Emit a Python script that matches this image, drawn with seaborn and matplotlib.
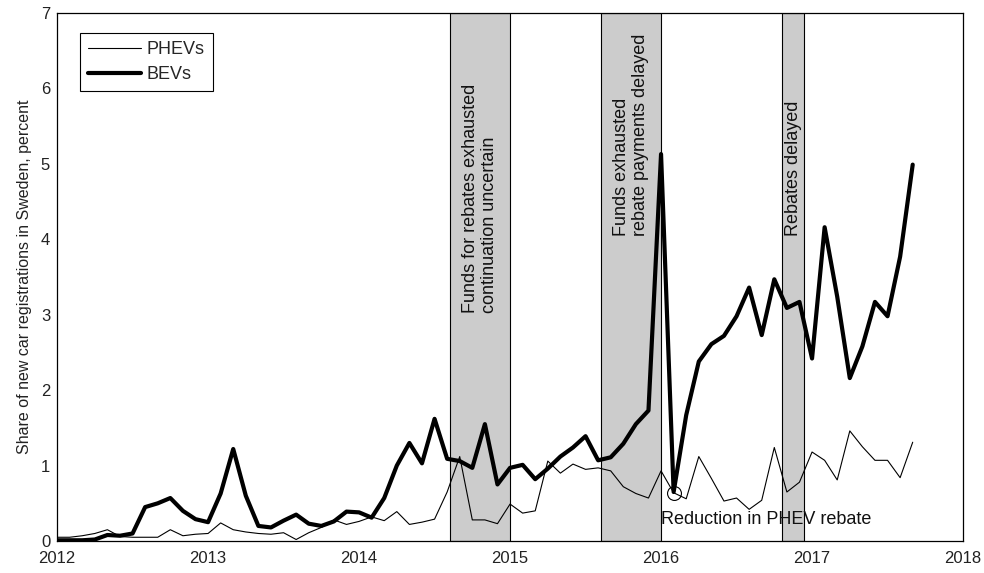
"""
Share of new car registrations in Sweden: PHEVs vs BEVs, monthly 2012-2017,
with shaded periods of rebate uncertainty.
"""
import matplotlib
matplotlib.use("Agg")
import matplotlib.pyplot as plt
import pandas as pd
import seaborn as sns

# -----------------------------
# DATA
# -----------------------------
start_month = "2012-01"
n_months = 69  # Jan 2012 .. Sep 2017

phev_share = [
    0.05, 0.05, 0.07, 0.10, 0.15, 0.06, 0.05, 0.05, 0.05, 0.15, 0.07, 0.09,   # 2012
    0.10, 0.24, 0.15, 0.12, 0.10, 0.09, 0.11, 0.02, 0.11, 0.18, 0.28, 0.22,   # 2013
    0.26, 0.32, 0.27, 0.39, 0.22, 0.25, 0.29, 0.65, 1.12, 0.28, 0.28, 0.23,   # 2014
    0.49, 0.37, 0.40, 1.06, 0.90, 1.02, 0.95, 0.97, 0.93, 0.72, 0.63, 0.57,   # 2015
    0.93, 0.64, 0.56, 1.12, 0.83, 0.53, 0.57, 0.42, 0.54, 1.24, 0.65, 0.78,   # 2016
    1.18, 1.07, 0.81, 1.46, 1.25, 1.07, 1.07, 0.84, 1.31,                     # 2017
]
bev_share = [
    0.01, 0.01, 0.01, 0.02, 0.08, 0.07, 0.10, 0.45, 0.50, 0.57, 0.40, 0.29,   # 2012
    0.25, 0.63, 1.22, 0.60, 0.20, 0.18, 0.27, 0.35, 0.23, 0.20, 0.26, 0.39,   # 2013
    0.38, 0.31, 0.57, 1.00, 1.30, 1.03, 1.62, 1.09, 1.06, 0.97, 1.55, 0.75,   # 2014
    0.97, 1.01, 0.82, 0.96, 1.12, 1.24, 1.39, 1.07, 1.11, 1.29, 1.55, 1.73,   # 2015
    5.13, 0.65, 1.67, 2.38, 2.61, 2.72, 2.98, 3.36, 2.73, 3.47, 3.09, 3.17,   # 2016
    2.42, 4.16, 3.24, 2.16, 2.58, 3.17, 2.98, 3.77, 4.99,                     # 2017
]

# shaded periods (decimal years) and their labels
span_starts = [2014.6, 2015.6, 2016.8]
span_ends = [2015.0, 2016.0, 2016.95]
span_labels = [
    "Funds for rebates exhausted\ncontinuation uncertain",
    "Funds exhausted\nrebate payments delayed",
    "Rebates delayed",
]
span_label_y = [3.02, 4.05, 4.05]

year_ticks = [2012, 2013, 2014, 2015, 2016, 2017, 2018]
y_ticks = [0, 1, 2, 3, 4, 5, 6, 7]

rebate_cut_month = "2016-02"
rebate_cut_text = "Reduction in PHEV rebate"


def build_frame():
    months = pd.date_range(start_month, periods=n_months, freq="MS")
    decimal_year = months.year + (months.month - 1) / 12
    return pd.DataFrame({
        "month": months,
        "year": decimal_year,
        "PHEVs": phev_share,
        "BEVs": bev_share,
    })


def main():
    df = build_frame()

    sns.set_theme(style="white")
    plt.rcParams["font.family"] = ["Liberation Sans", "DejaVu Sans"]

    fig = plt.figure(figsize=(9.84, 5.73), dpi=100)
    ax = fig.add_axes([0.058, 0.0558, 0.9207, 0.9215])

    # shaded periods
    for x0, x1, label, ty in zip(span_starts, span_ends, span_labels, span_label_y):
        ax.axvspan(x0, x1, facecolor="#cccccc", edgecolor="black",
                   linewidth=0.8, zorder=0)
        ax.text((x0 + x1) / 2, ty, label, rotation=90, ha="center",
                va="bottom", multialignment="left", fontsize=13,
                color="#111111", linespacing=1.1, zorder=1)

    sns.lineplot(data=df, x="year", y="PHEVs", color="black",
                 linewidth=0.8, label="PHEVs", ax=ax, zorder=3)
    sns.lineplot(data=df, x="year", y="BEVs", color="black",
                 linewidth=3, label="BEVs", ax=ax, zorder=4)

    # circle the PHEV rebate reduction point
    cut = df[df["month"] == pd.Timestamp(rebate_cut_month)].iloc[0]
    ax.plot(cut["year"], cut["PHEVs"], marker="o", markersize=10,
            markerfacecolor="none", markeredgecolor="black",
            markeredgewidth=0.8, zorder=5)
    ax.text(cut["year"] - 1 / 12, 0.28, rebate_cut_text, ha="left",
            va="center", fontsize=13, color="#111111", zorder=5)

    ax.set_xlim(year_ticks[0], year_ticks[-1])
    ax.set_ylim(y_ticks[0], y_ticks[-1])
    ax.set_xticks(year_ticks)
    ax.set_yticks(y_ticks)
    ax.tick_params(direction="in", length=6, width=0.8, labelsize=12,
                   colors="black", labelcolor="#222222", pad=5)
    ax.tick_params(axis="x", pad=7)
    ax.set_xlabel("")
    ax.set_ylabel("Share of new car registrations in Sweden, percent",
                  fontsize=11.5, color="#222222", labelpad=6)

    for side in ["left", "right", "top", "bottom"]:
        ax.spines[side].set_visible(True)
        ax.spines[side].set_color("black")
        ax.spines[side].set_linewidth(0.9)

    leg = ax.legend(loc="upper left", bbox_to_anchor=(0.0254, 0.962),
                    borderaxespad=0, fontsize=13, handlelength=2.9,
                    handletextpad=0.35, borderpad=0.45, labelspacing=0.45,
                    fancybox=False, framealpha=1, edgecolor="black")
    leg.get_frame().set_linewidth(0.8)

    fig.savefig("out.png", dpi=100)


if __name__ == "__main__":
    main()
